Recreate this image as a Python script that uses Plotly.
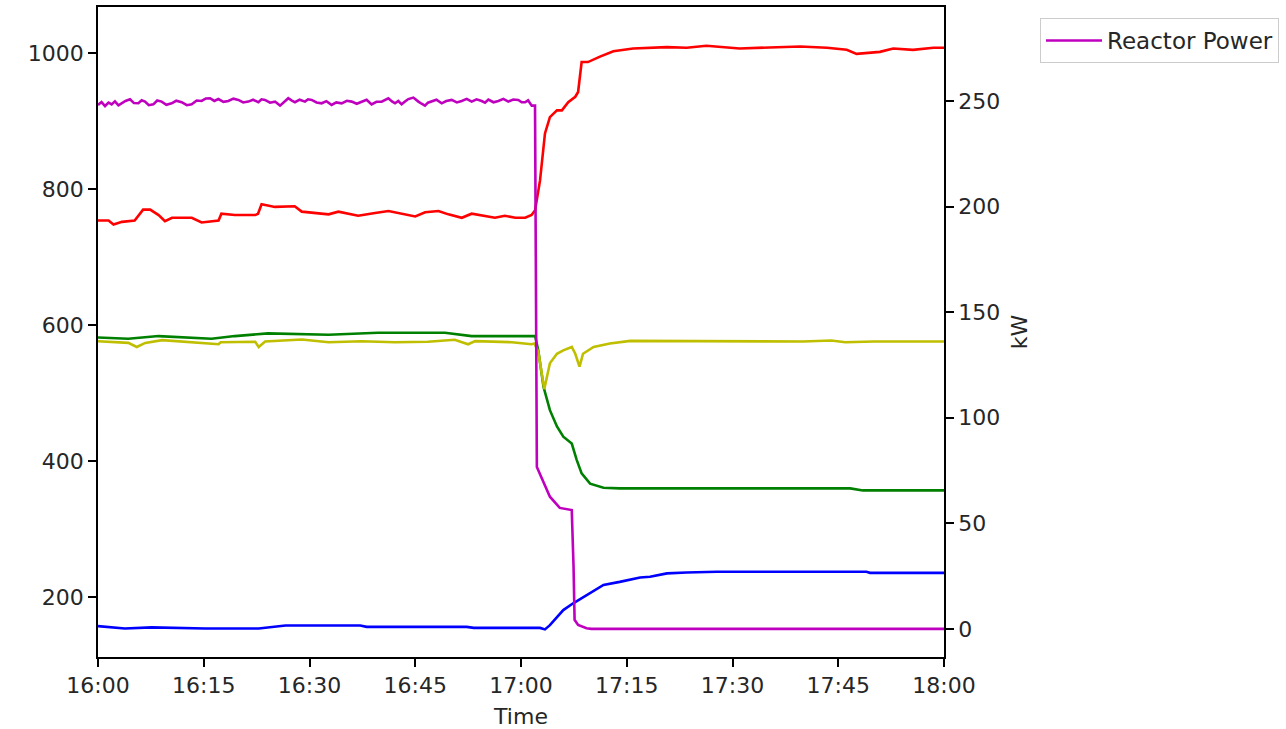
import pandas as pd
import plotly.graph_objects as go

BASE = "2024-01-01 16:00"

# Reactor power (kW, right axis): minutes after 16:00 and values
power_t = [0, 0.5, 1.0, 1.5, 1.94, 2.4, 2.9, 3.36, 3.9, 4.54, 5.1, 5.72, 6.2, 6.67, 7.2, 7.85,
           8.4, 9.03, 9.7, 10.45, 11.1, 11.87, 12.6, 13.29, 14.0, 14.7, 15.3, 15.89, 16.5, 17.07,
           17.8, 18.49, 19.2, 19.91, 20.6, 21.32, 22.0, 22.74, 23.2, 23.69, 24.4, 25.11, 25.5,
           25.82, 26.4, 26.99, 27.5, 27.94, 28.6, 29.36, 29.8, 30.31, 31.0, 31.72, 32.4, 33.14,
           33.8, 34.56, 35.3, 35.98, 36.7, 37.4, 38.1, 38.81, 39.5, 40.23, 40.7, 41.18, 41.7,
           42.13, 42.6, 43.07, 43.5, 44.02, 44.73, 45.1, 45.44, 45.9, 46.38, 46.8, 47.33, 48.0,
           48.75, 49.4, 50.17, 50.9, 51.59, 52.3, 53.0, 53.7, 54.42, 54.9, 55.37, 56.1, 56.79,
           57.5, 58.2, 58.9, 59.62, 60.1, 60.57, 61.0, 61.52, 61.99,
           62.25, 63.2, 64.1, 65.5, 67.2, 67.45, 67.6, 68.1, 69.3, 70.0, 120]
power_v = [248.1, 249.5, 247.6, 249.2, 248.4, 249.8, 247.9, 248.9, 250.0, 250.8, 249.0, 248.9,
           250.3, 249.7, 248.0, 248.4, 250.2, 249.7, 248.2, 248.9, 250.1, 249.4, 248.0, 248.4,
           250.2, 250.0, 251.2, 251.3, 250.0, 250.9, 249.6, 250.0, 251.1, 250.5, 249.3, 249.7,
           250.6, 249.4, 250.8, 250.5, 249.2, 249.7, 248.6, 247.8, 249.5, 251.3, 250.2, 249.4,
           250.6, 249.7, 250.8, 250.5, 249.3, 248.9, 249.9, 248.1, 249.3, 248.9, 250.1, 249.7,
           248.7, 249.7, 250.6, 248.4, 249.6, 249.7, 250.5, 251.3, 249.8, 248.9, 250.0, 248.4,
           249.6, 250.9, 251.6, 250.4, 249.7, 248.7, 247.8, 249.2, 249.7, 250.6, 248.9, 250.0,
           250.5, 249.3, 250.0, 251.0, 249.7, 250.8, 250.0, 249.2, 250.7, 249.4, 250.0, 251.0,
           249.7, 250.7, 250.5, 249.4, 249.4, 250.3, 247.8, 247.8,
           76.7, 69.0, 62.6, 57.3, 56.3, 30.0, 4.3, 1.9, 0.3, 0.0, 0.0]

# Left-axis series
red_t = [0, 1.5, 2.2, 3.4, 5.2, 6.4, 7.4, 8.6, 9.5, 10.5, 13.3, 14.7, 17.1, 17.5, 19.4, 22.3,
         22.7, 23.2, 25.1, 27.9, 28.9, 32.7, 34.1, 36.9, 39.3, 41.2, 45.0, 46.4, 48.3, 49.7,
         51.6, 53.0, 56.3, 57.7, 59.2, 60.6, 61.5, 62.0, 62.7, 63.4, 64.1, 65.1, 65.8, 66.7,
         67.7, 68.1, 68.6, 69.5, 71.2, 73.1, 75.9, 80.7, 83.5, 86.3, 91.0, 94.8, 99.6, 103.4,
         106.2, 107.6, 110.9, 112.8, 115.6, 118.5, 120]
red_v = [754, 754, 748, 752, 754, 770, 770, 762, 753, 758, 758, 751, 754, 764, 762, 762,
         764, 778, 774, 775, 767, 763, 767, 761, 765, 768, 760, 766, 768, 763,
         758, 764, 758, 761, 758, 758, 762, 769, 813, 882, 906, 916, 916, 928,
         936, 943, 987, 987, 995, 1003, 1007, 1009, 1008, 1011, 1007, 1008, 1010, 1008,
         1005, 999, 1002, 1007, 1005, 1008, 1008]

green_t = [0, 4.3, 8.6, 11.9, 16.1, 19.4, 24.1, 32.7, 39.7, 49.2, 53.0, 61.5, 62.0, 62.45,
           63.2, 64.1, 65.1, 66.0, 67.2, 67.9, 68.6, 69.8, 71.7, 74.0, 106.7, 108.5, 120]
green_v = [582, 580, 584, 582, 580, 584, 588, 586, 589, 589, 584, 584, 584, 563,
           509, 475, 451, 436, 426, 402, 382, 367, 361, 360, 360, 357, 357]

yellow_t = [0, 4.3, 5.5, 6.7, 9.1, 13.8, 17.1, 17.4, 22.3, 22.8, 23.7, 28.9, 32.7, 37.4, 42.1,
            46.8, 50.6, 52.5, 53.5, 58.7, 61.5, 61.9, 62.45, 63.3, 64.1, 65.1, 66.0, 67.2,
            67.7, 68.3, 68.8, 70.3, 72.6, 75.5, 90.0, 100.0, 104.0, 106.0, 110.0, 120]
yellow_v = [576.5, 574, 568, 574, 578, 575, 572, 575, 575.6, 568, 576, 579, 575, 576.5, 575,
            575.6, 578.5, 572, 576.5, 575, 572, 573, 561, 506, 544, 558, 563, 568,
            558, 539, 558, 568, 573, 577, 577, 576, 577.5, 575, 576, 576]

blue_t = [0, 3.8, 7.6, 15.2, 22.8, 26.6, 37.2, 38.1, 52.3, 53.3, 62.7, 63.4, 64.1, 66.0, 67.4,
          69.3, 71.7, 74.0, 76.9, 78.3, 80.7, 83.5, 87.8, 109.0, 109.5, 120]
blue_v = [157.4, 154, 155.5, 154, 154, 158.4, 158.4, 156.3, 156.3, 154.8, 154.8, 152.6, 158.8,
          181, 191, 203, 218, 222.5, 229, 230, 235, 236.3, 237.3, 237.3, 235.8, 235.8]

X_START, X_END = "2024-01-01 16:00", "2024-01-01 18:00"
LEFT_RANGE = [112, 1068]
RIGHT_RANGE = [-13.3, 294.5]


def to_time(mins):
    return pd.Timestamp(BASE) + pd.to_timedelta(mins, unit="min")


FONT = dict(family="DejaVu Sans", size=22, color="#262626")
LEGEND_FONT = dict(family="DejaVu Sans", size=23, color="#262626")
LW = 2.6

fig = go.Figure()
left_series = [
    (red_t, red_v, "#ff0000"),
    (green_t, green_v, "#008000"),
    (yellow_t, yellow_v, "#bfbf00"),
    (blue_t, blue_v, "#0000ff"),
]
for t, v, c in left_series:
    fig.add_trace(go.Scatter(x=to_time(t), y=v, mode="lines", line=dict(color=c, width=LW),
                             showlegend=False, yaxis="y"))

fig.add_trace(go.Scatter(x=to_time(power_t), y=power_v, mode="lines", name="Reactor Power",
                         line=dict(color="#bf00bf", width=LW), yaxis="y2"))

axis_common = dict(showgrid=False, zeroline=False, showline=True, linecolor="black",
                   linewidth=1.5, ticks="outside", ticklen=8, tickwidth=1.5,
                   tickcolor="black", tickfont=FONT, automargin=False)

fig.update_layout(
    width=1286, height=729,
    margin=dict(l=98, r=342, t=7, b=72),
    paper_bgcolor="white", plot_bgcolor="white",
    font=FONT,
    xaxis=dict(range=[X_START, X_END], tickformat="%H:%M", dtick=900000,
               tick0=X_START, mirror=True,
               title=dict(text="Time", font=FONT, standoff=11), **axis_common),
    yaxis=dict(range=LEFT_RANGE, tickvals=[200, 400, 600, 800, 1000], mirror=True,
               **axis_common),
    yaxis2=dict(range=RIGHT_RANGE, tickvals=[0, 50, 100, 150, 200, 250], overlaying="y",
                side="right", title=dict(text="kW", font=FONT, standoff=12), **axis_common),
    legend=dict(x=1.1135, y=0.983, xanchor="left", yanchor="top", bgcolor="white",
                bordercolor="#cccccc", borderwidth=1, font=LEGEND_FONT, itemwidth=56),
    showlegend=True,
)

fig.write_html("out.html")
